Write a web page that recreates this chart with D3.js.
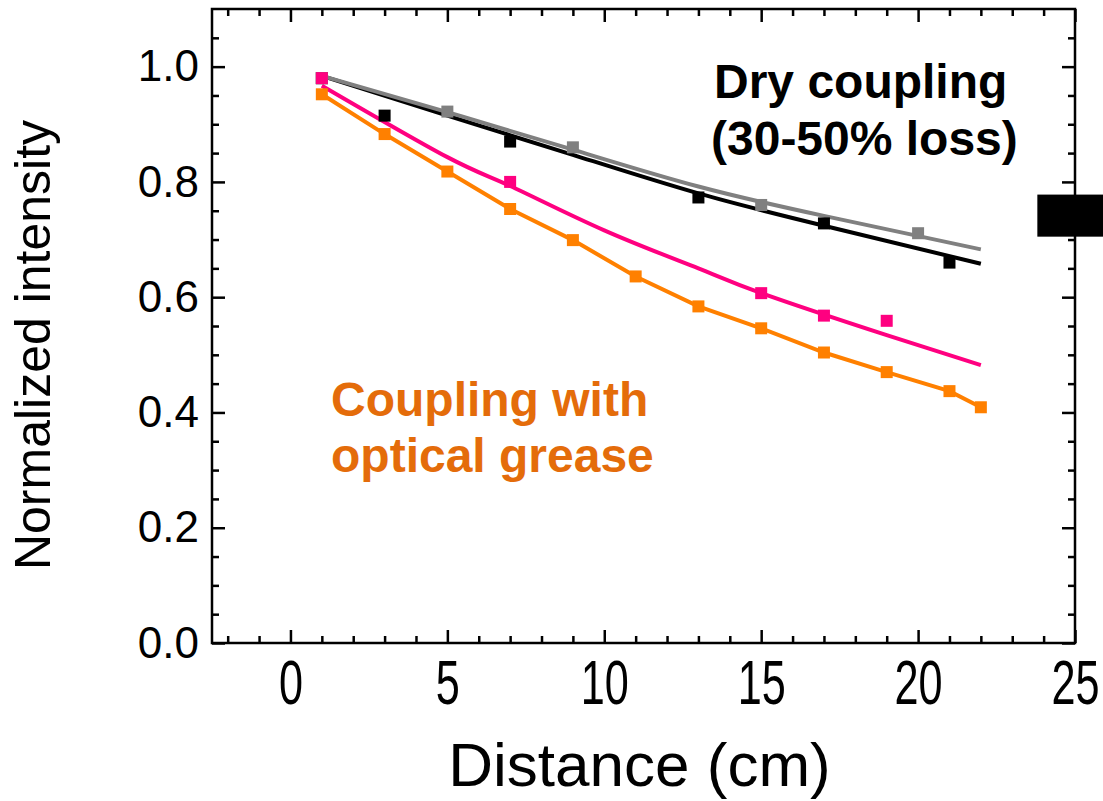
<!DOCTYPE html>
<html>
<head>
<meta charset="utf-8">
<script src="https://cdn.jsdelivr.net/npm/d3@7"></script>
<style>
  body { margin: 0; background: #fff; }
  svg { display: block; font-family: "Liberation Sans", Arial, sans-serif; }
</style>
</head>
<body>
<svg id="chart" width="1103" height="801"></svg>
<script>
// measured points
const blackX = [1, 3, 7, 13, 17, 21]
const blackY = [0.98, 0.915, 0.87, 0.773, 0.728, 0.66]
const grayX = [1, 5, 9, 15, 20]
const grayY = [0.98, 0.922, 0.86, 0.76, 0.711]
const pinkX = [1, 7, 15, 17, 19]
const pinkY = [0.98, 0.80, 0.607, 0.568, 0.559]
const orangeX = [1, 3, 5, 7, 9, 11, 13, 15, 17, 19, 21, 22]
const orangeY = [0.952, 0.883, 0.818, 0.753, 0.699, 0.636, 0.584, 0.546, 0.504, 0.47, 0.437, 0.409]

// fitted curves
const blackFitX = [1, 5, 9, 13, 17, 22]
const blackFitY = [0.984, 0.915, 0.847, 0.780, 0.724, 0.658]
const grayFitX = [1, 5, 9, 13, 17, 22]
const grayFitY = [0.984, 0.921, 0.856, 0.792, 0.741, 0.683]
const pinkFitX = [1, 5, 7, 10, 13, 15, 19, 22]
const pinkFitY = [0.967, 0.843, 0.793, 0.716, 0.650, 0.607, 0.534, 0.482]

const xTicks = [0, 5, 10, 15, 20, 25]
const yTicks = [0, 0.2, 0.4, 0.6, 0.8, 1.0]
// clipped legend swatch on the right edge [x0, x1, y0, y1]
const swatch = [23.8, 27, 0.778, 0.705]

const svg = d3.select('#chart')
const pLeft = 212, pRight = 1075, pTop = 9, pBottom = 643

const x = d3.scaleLinear().domain([-2.5, 25]).range([pLeft, pRight])
const y = d3.scaleLinear().domain([0, 1.1]).range([pBottom, pTop])

const minorX = d3.range(-2, 26, 1).filter(v => v % 5 !== 0)
const minorY = d3.range(1, 22).map(i => i * 0.05).filter((v, i) => (i + 1) % 4 !== 0)

const styleAxis = g => {
	g.select('.domain').remove()
	g.selectAll('line').attr('stroke', '#000').attr('stroke-width', 2.5)
}

// bottom
svg.append('g').attr('transform', `translate(0,${pBottom})`)
	.call(d3.axisBottom(x).tickValues(minorX).tickSize(-7).tickFormat(''))
	.call(styleAxis)
svg.append('g').attr('transform', `translate(0,${pBottom})`)
	.call(d3.axisBottom(x).tickValues(xTicks).tickSize(-13).tickPadding(15).tickFormat(d3.format('d')))
	.call(styleAxis)
	.call(g => g.selectAll('text')
		.attr('font-size', 54).attr('fill', '#000')
		.attr('transform', 'scale(0.8,1.15)'))
// top
svg.append('g').attr('transform', `translate(0,${pTop})`)
	.call(d3.axisTop(x).tickValues(minorX).tickSize(-7).tickFormat(''))
	.call(styleAxis)
svg.append('g').attr('transform', `translate(0,${pTop})`)
	.call(d3.axisTop(x).tickValues(xTicks).tickSize(-13).tickFormat(''))
	.call(styleAxis)
// left
svg.append('g').attr('transform', `translate(${pLeft},0)`)
	.call(d3.axisLeft(y).tickValues(minorY).tickSize(-7).tickFormat(''))
	.call(styleAxis)
svg.append('g').attr('transform', `translate(${pLeft},0)`)
	.call(d3.axisLeft(y).tickValues(yTicks).tickSize(-13).tickPadding(13).tickFormat(d3.format('.1f')))
	.call(styleAxis)
	.call(g => g.selectAll('text').attr('font-size', 44).attr('fill', '#000'))
// right
svg.append('g').attr('transform', `translate(${pRight},0)`)
	.call(d3.axisRight(y).tickValues(minorY).tickSize(-7).tickFormat(''))
	.call(styleAxis)
svg.append('g').attr('transform', `translate(${pRight},0)`)
	.call(d3.axisRight(y).tickValues(yTicks).tickSize(-13).tickFormat(''))
	.call(styleAxis)

svg.append('rect')
	.attr('x', pLeft).attr('y', pTop)
	.attr('width', pRight - pLeft).attr('height', pBottom - pTop)
	.attr('fill', 'none').attr('stroke', '#000').attr('stroke-width', 2.5)

// axis titles
svg.append('text')
	.attr('x', (pLeft + pRight) / 2 - 4).attr('y', 786)
	.attr('text-anchor', 'middle').attr('font-size', 62)
	.text('Distance (cm)')
svg.append('text')
	.attr('transform', `translate(50,${345}) rotate(-90)`)
	.attr('text-anchor', 'middle').attr('font-size', 50)
	.text('Normalized intensity')

const zip = (xs, ys) => xs.map((v, i) => [v, ys[i]])
const line = d3.line().x(d => x(d[0])).y(d => y(d[1]))
const smooth = d3.line().x(d => x(d[0])).y(d => y(d[1])).curve(d3.curveNatural)

const plot = svg.append('g')
const series = [
	{ pts: zip(blackX, blackY), fit: zip(blackFitX, blackFitY), color: '#000000' },
	{ pts: zip(grayX, grayY), fit: zip(grayFitX, grayFitY), color: '#808080' },
	{ pts: zip(orangeX, orangeY), fit: zip(orangeX, orangeY), color: '#FF8000', straight: true },
	{ pts: zip(pinkX, pinkY), fit: zip(pinkFitX, pinkFitY), color: '#FF0080' }
]
const ms = 12
series.forEach(s => {
	plot.append('path')
		.attr('d', (s.straight ? line : smooth)(s.fit))
		.attr('fill', 'none').attr('stroke', s.color).attr('stroke-width', 4)
})
series.forEach(s => {
	plot.selectAll(null).data(s.pts).enter().append('rect')
		.attr('x', d => x(d[0]) - ms / 2).attr('y', d => y(d[1]) - ms / 2)
		.attr('width', ms).attr('height', ms)
		.attr('fill', s.color)
})

svg.append('rect')
	.attr('x', x(swatch[0])).attr('y', y(swatch[2]))
	.attr('width', x(swatch[1]) - x(swatch[0])).attr('height', y(swatch[3]) - y(swatch[2]))
	.attr('fill', '#000')

// annotations
const note = svg.append('g').attr('font-weight', 'bold').attr('font-size', 48)
note.append('text').attr('x', 714).attr('y', 98).attr('fill', '#000').text('Dry coupling')
note.append('text').attr('x', 711).attr('y', 155).attr('fill', '#000').text('(30-50% loss)')
note.append('text').attr('x', 331).attr('y', 416).attr('fill', '#E46C0A').text('Coupling with')
note.append('text').attr('x', 331).attr('y', 472).attr('fill', '#E46C0A').text('optical grease')
</script>
</body>
</html>
